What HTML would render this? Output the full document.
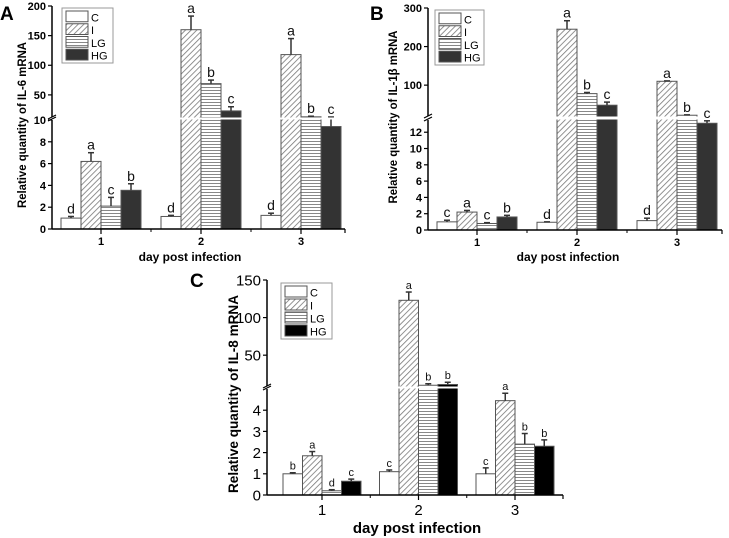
<!DOCTYPE html>
<html><head><meta charset="utf-8"><style>
body{margin:0;background:#fff;}
svg{display:block;font-family:"Liberation Sans",Arial,sans-serif;}
</style></head><body>
<svg id="fig" width="729" height="538" viewBox="0 0 729 538">
<defs>
<pattern id="hatch" patternUnits="userSpaceOnUse" width="4" height="4" patternTransform="rotate(45)"><rect width="4" height="4" fill="#fff"/><line x1="0" y1="0" x2="0" y2="4" stroke="#777" stroke-width="1.6"/></pattern>
<pattern id="hlines" patternUnits="userSpaceOnUse" width="4" height="3"><rect width="4" height="3" fill="#fff"/><line x1="0" y1="0.5" x2="4" y2="0.5" stroke="#888" stroke-width="1"/></pattern>
</defs>
</svg>
<script>
const categories = ["1","2","3"];
const seriesNames = ["C","I","LG","HG"];
// Panel A IL-6
const aC = [1.0, 1.15, 1.25], aI = [6.2, 160, 118], aLG = [2.1, 69, 13], aHG = [3.55, 23, 9.4];
const aCe = [0.15, 0.1, 0.2], aIe = [0.8, 23, 27], aLGe = [0.8, 6, 1], aHGe = [0.6, 7, 0.7];
const aLetters = [["d","d","d"],["a","a","a"],["c","b","b"],["b","c","c"]];
const aLowTicks = [0,2,4,6,8,10], aHighTicks = [50,100,150,200];
// Panel B IL-1b
const bC = [1.0, 0.95, 1.15], bI = [2.2, 245, 110], bLG = [0.8, 78, 22], bHG = [1.6, 48, 13.1];
const bCe = [0.2, 0.05, 0.3], bIe = [0.2, 22, 1], bLGe = [0.1, 3, 1], bHGe = [0.2, 8, 0.3];
const bLetters = [["c","d","d"],["a","a","a"],["c","b","b"],["b","c","c"]];
const bLowTicks = [0,2,4,6,8,10,12], bHighTicks = [100,200,300];
// Panel C IL-8
const cC = [1.0, 1.1, 1.0], cI = [1.85, 123, 4.45], cLG = [0.2, 10, 2.4], cHG = [0.65, 11, 2.3];
const cCe = [0.05, 0.08, 0.28], cIe = [0.2, 11, 0.35], cLGe = [0.05, 2, 0.5], cHGe = [0.1, 3, 0.3];
const cLetters = [["b","c","c"],["a","a","a"],["d","b","b"],["c","b","b"]];
const cLowTicks = [0,1,2,3,4], cHighTicks = [50,100,150];

const svg = document.getElementById('fig');
const NS = 'http://www.w3.org/2000/svg';
function mk(tag, attrs, parent){const e=document.createElementNS(NS,tag);for(const k in attrs)e.setAttribute(k,attrs[k]);(parent||svg).appendChild(e);return e;}

function panel(p){
  const g = mk('g',{});
  
  
  const y = v => v <= p.lowMax ? p.y0 - (v/p.lowMax)*(p.y0-p.lowTop)
                               : p.highBot - (Math.max(v,p.highMin)-p.highMin)/(p.highMax-p.highMin)*(p.highBot-p.yTop);
  const x = i => p.x1 + i*p.step;
  const fills = ['#fff','url(#hatch)','url(#hlines)',p.dark];
  const series = [p.s[0],p.s[1],p.s[2],p.s[3]];
  const barsG = mk('g',{},g);
  mk('rect',{x:p.ax+1,y:p.highBot+0.5,width:p.xEnd-p.ax,height:p.lowTop-p.highBot-1,fill:'#fff'},g);
  const lettersG = mk('g',{},g);
  series.forEach((vals,si)=>{
    vals.forEach((v,ci)=>{
      const bx = x(ci) - 2*p.bw + si*p.bw;
      const top = y(v);
      const r = mk('rect',{x:bx,y:top,width:p.bw,height:p.y0-top,fill:fills[si],stroke:'#555','stroke-width':1},barsG);
      
      
      const et = y(v + p.e[si][ci]);
      mk('line',{x1:bx+p.bw/2,x2:bx+p.bw/2,y1:top,y2:et,stroke:'#333','stroke-width':1.5},barsG);
      mk('line',{x1:bx+p.bw/2-3,x2:bx+p.bw/2+3,y1:et,y2:et,stroke:'#333','stroke-width':1.5},barsG);
      const t = mk('text',{x:bx+p.bw/2,y:et-3,'text-anchor':'middle','font-size':p.letSize,fill:'#111'},lettersG);
      t.textContent = p.letters[si][ci];
      
      
    });
  });
  // axes
  mk('line',{x1:p.ax,x2:p.ax,y1:p.y0,y2:p.lowTop,stroke:'#000','stroke-width':1.5},g);
  mk('line',{x1:p.ax,x2:p.ax,y1:p.highBot,y2:p.yTop,stroke:'#000','stroke-width':1.5},g);
  mk('line',{x1:p.ax-4,x2:p.ax+4,y1:p.lowTop+1,y2:p.lowTop-3,stroke:'#000','stroke-width':1.2},g);
  mk('line',{x1:p.ax-4,x2:p.ax+4,y1:p.highBot+2,y2:p.highBot-2,stroke:'#000','stroke-width':1.2},g);
  mk('line',{x1:p.ax,x2:p.xEnd,y1:p.y0,y2:p.y0,stroke:'#000','stroke-width':1.5},g);
  mk('line',{x1:p.xEnd,x2:p.xEnd,y1:p.y0,y2:p.y0+4,stroke:'#000','stroke-width':1.2},g);
  [...p.low, ...p.high].forEach(v=>{
    const yy = y(v);
    mk('line',{x1:p.ax-4,x2:p.ax,y1:yy,y2:yy,stroke:'#000','stroke-width':1.2},g);
    const t = mk('text',{x:p.ax-6,y:yy+p.tickSize*0.36,'text-anchor':'end','font-size':p.tickSize,'font-weight':p.tickW},g);
    t.textContent = v;
    
    
  });
  categories.forEach((c,i)=>{
    mk('line',{x1:x(i),x2:x(i),y1:p.y0,y2:p.y0+5,stroke:'#000','stroke-width':1.2},g);
    if(i>0) mk('line',{x1:x(i)-p.step/2,x2:x(i)-p.step/2,y1:p.y0,y2:p.y0+3,stroke:'#000','stroke-width':1},g);
    const t = mk('text',{x:x(i),y:p.y0+p.tickSize+5,'text-anchor':'middle','font-size':p.tickSize,'font-weight':p.tickW},g);
    t.textContent = c;
    
    
  });
  const xt = mk('text',{x:p.xtX,y:p.xtY,'text-anchor':'middle','font-size':p.titleSize,'font-weight':'bold'},g);
  xt.textContent = 'day post infection';
  
  
  const yt = mk('text',{x:0,y:0,'text-anchor':'middle','font-size':p.ytSize,'font-weight':'bold',textLength:p.ytLen,lengthAdjust:'spacingAndGlyphs',transform:`translate(${p.ytX},${p.ytY}) rotate(-90)`},g);
  yt.textContent = p.ylabel;
  
  
  const pl = mk('text',{x:p.plX,y:p.plY,'font-size':19,'font-weight':'bold'},g);
  pl.textContent = p.letter;
  
  
  // legend
  const L = p.leg;
  const lg = mk('g',{},g);
  
  
  mk('rect',{x:L.x,y:L.y,width:L.w,height:L.h,fill:'#fff',stroke:'#999','stroke-width':1},lg);
  seriesNames.forEach((n,i)=>{
    const ry = L.y+3+i*(L.h-4)/4;
    mk('rect',{x:L.x+4,y:ry,width:22,height:(L.h-4)/4-2,fill:fills[i],stroke:'#555','stroke-width':1},lg);
    const t = mk('text',{x:L.x+29,y:ry+(L.h-4)/8+4,'font-size':11},lg);
    t.textContent = n;
    
    
  });
}

panel({name:'panel-a-il6',letter:'A',plX:0,plY:20,ylabel:'Relative quantity of IL-6 mRNA',
  s:[aC,aI,aLG,aHG],e:[aCe,aIe,aLGe,aHGe],letters:aLetters,low:aLowTicks,high:aHighTicks,
  ax:52,xEnd:345,y0:229,lowTop:120,lowMax:10,highBot:117,highMin:12.7,highMax:200,yTop:6,
  x1:101,step:100,bw:20,dark:'#333',letSize:14,tickSize:11,tickW:'bold',titleSize:12,
  ytSize:12,ytLen:166,xtX:190,xtY:261,ytX:26,ytY:125,leg:{x:62,y:8,w:51,h:55}});
panel({name:'panel-b-il1b',letter:'B',plX:370,plY:20,ylabel:'Relative quantity of IL-1β mRNA',
  s:[bC,bI,bLG,bHG],e:[bCe,bIe,bLGe,bHGe],letters:bLetters,low:bLowTicks,high:bHighTicks,
  ax:428,xEnd:722,y0:230,lowTop:120,lowMax:13.5,highBot:116,highMin:20,highMax:300,yTop:8,
  x1:477,step:100,bw:20,dark:'#333',letSize:14,tickSize:11,tickW:'bold',titleSize:12,
  ytSize:12,ytLen:173,xtX:568,xtY:261,ytX:397,ytY:117,leg:{x:435,y:10,w:49,h:55}});
panel({name:'panel-c-il8',letter:'C',plX:190,plY:287,ylabel:'Relative quantity of IL-8 mRNA',
  s:[cC,cI,cLG,cHG],e:[cCe,cIe,cLGe,cHGe],letters:cLetters,low:cLowTicks,high:cHighTicks,
  ax:267,xEnd:563,y0:495,lowTop:389,lowMax:5,highBot:386,highMin:9,highMax:150,yTop:280,
  x1:322,step:96.5,bw:19.5,dark:'#000',letSize:11,tickSize:15,tickW:'normal',titleSize:15,
  ytSize:14,ytLen:198,xtX:417,xtY:533,ytX:238,ytY:394,leg:{x:281,y:283,w:51,h:56}});
</script>
</body></html>
